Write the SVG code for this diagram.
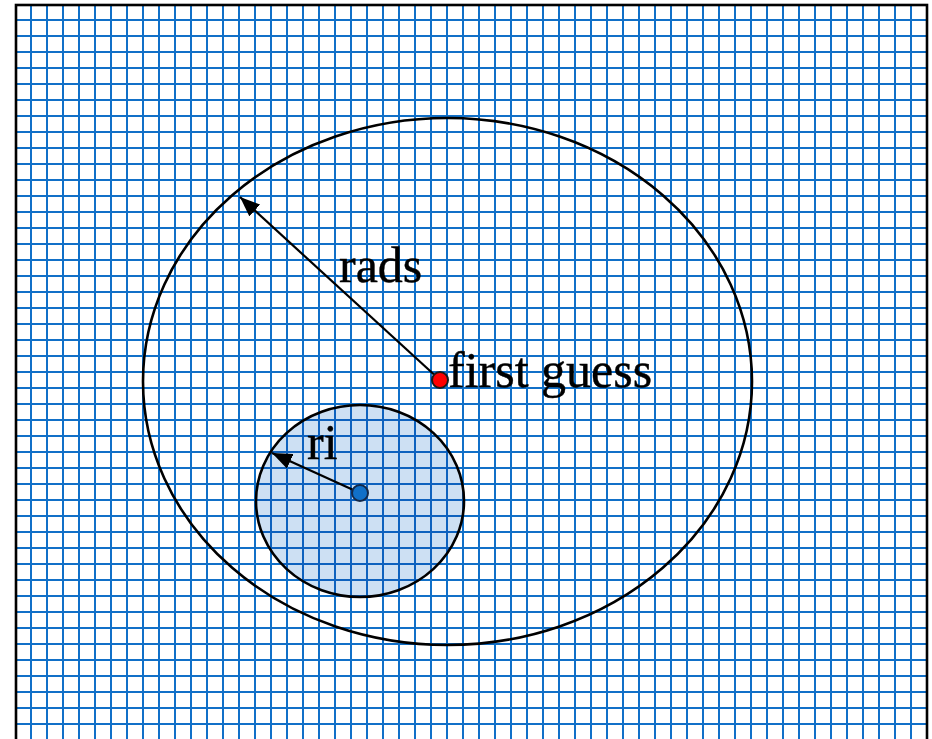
<svg xmlns="http://www.w3.org/2000/svg" width="932" height="739" viewBox="0 0 932 739">
  <style>
    .grid { fill: none; stroke: #1170c8; stroke-width: 2; }
    .outline { fill: none; stroke: #000; stroke-width: 2.6; }
    .arrow { stroke: #000; stroke-width: 2.2; fill: none; marker-end: url(#head); }
    .label { font-family: "Liberation Serif", "Times New Roman", serif; font-size: 50px; fill: #000; stroke: #000; stroke-width: 0.4; }
  </style>
  <defs>
    <marker id="head" markerUnits="userSpaceOnUse" markerWidth="22" markerHeight="16" refX="20" refY="8" orient="auto" viewBox="0 0 22 16">
      <path d="M0,0 L20,8 L0,16 z" fill="#000"/>
    </marker>
  </defs>
  <rect x="0" y="0" width="932" height="739" fill="#fff"/>
  <g id="sheet">
    <path class="grid" d="M31 5V739M47 5V739M63 5V739M79 5V739M95 5V739M111 5V739M127 5V739M143 5V739M159 5V739M175 5V739M191 5V739M207 5V739M223 5V739M239 5V739M255 5V739M271 5V739M287 5V739M303 5V739M319 5V739M335 5V739M351 5V739M367 5V739M383 5V739M399 5V739M415 5V739M431 5V739M447 5V739M463 5V739M479 5V739M495 5V739M511 5V739M527 5V739M543 5V739M559 5V739M575 5V739M591 5V739M607 5V739M623 5V739M639 5V739M655 5V739M671 5V739M687 5V739M703 5V739M719 5V739M735 5V739M751 5V739M767 5V739M783 5V739M799 5V739M815 5V739M831 5V739M847 5V739M863 5V739M879 5V739M895 5V739M911 5V739M16 20H927M16 36H927M16 52H927M16 68H927M16 84H927M16 100H927M16 116H927M16 132H927M16 148H927M16 164H927M16 180H927M16 196H927M16 212H927M16 228H927M16 244H927M16 260H927M16 276H927M16 292H927M16 308H927M16 324H927M16 340H927M16 356H927M16 372H927M16 388H927M16 404H927M16 420H927M16 436H927M16 452H927M16 468H927M16 484H927M16 500H927M16 516H927M16 532H927M16 548H927M16 564H927M16 580H927M16 596H927M16 612H927M16 628H927M16 644H927M16 660H927M16 676H927M16 692H927M16 708H927M16 724H927"/>
    <rect x="16" y="5" width="911" height="750" class="outline"/>
  </g>
  <g id="search-area">
    <ellipse cx="447.5" cy="381.5" rx="304.5" ry="263.5" class="outline"/>
  </g>
  <g id="influence-area">
    <ellipse cx="360" cy="501" rx="104" ry="96" fill="#cde0f3" style="mix-blend-mode:multiply"/>
    <ellipse cx="360" cy="501" rx="104" ry="96" class="outline"/>
  </g>
  <g id="connectors">
    <line class="arrow" x1="440" y1="380" x2="240" y2="197"/>
    <line class="arrow" x1="360" y1="493" x2="272" y2="453"/>
  </g>
  <g id="first-guess">
    <circle cx="440" cy="380" r="8" fill="#ff0000" stroke="#1a1a1a" stroke-width="2"/>
    <text class="label" x="448" y="387">first guess</text>
  </g>
  <g id="point-i">
    <circle cx="360" cy="493" r="8" fill="#1170c8" stroke="#13294a" stroke-width="2"/>
  </g>
  <g id="label-rads">
    <text class="label" x="339" y="282">rads</text>
  </g>
  <g id="label-ri">
    <text class="label" x="307" y="459">ri</text>
  </g>
</svg>
